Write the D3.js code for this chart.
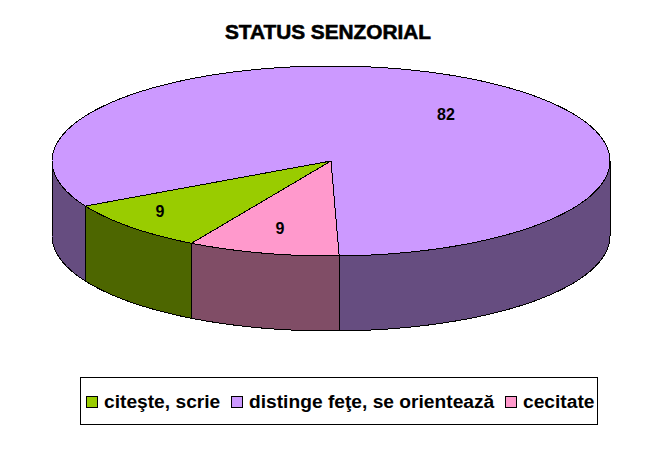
<!DOCTYPE html>
<html><head><meta charset="utf-8">
<script src="https://cdn.jsdelivr.net/npm/d3@7"></script>
<style>
html,body{margin:0;padding:0;background:#fff}
svg{display:block}
text{font-family:"Liberation Sans",Arial,sans-serif;font-weight:bold;fill:#000}
</style></head><body>
<svg id="c" width="656" height="455"></svg>
<script>
const categories = ["citeşte, scrie", "distinge feţe, se orientează", "cecitate"];
const values = [8.8, 82.4, 8.8];
const topColors = ["#99CC00", "#CC99FF", "#FF99CC"];
const sideColors = ["#4D6600", "#664D80", "#804D66"];
const titleText = "STATUS SENZORIAL";

const svg = d3.select("#c");
const cx = 331, cy = 161, rx = 279, ry = 95, depth = 75;
const sx = d3.scaleLinear().domain([-1, 1]).range([cx - rx, cx + rx]);
const sy = d3.scaleLinear().domain([-1, 1]).range([cy - ry, cy + ry]);
const pie = d3.pie().sort(null).startAngle(210 * Math.PI / 180).endAngle(570 * Math.PI / 180);
const arcs = pie(values);
const pt = (a, dz = 0) => [sx(Math.sin(a)), sy(-Math.cos(a)) + dz];
const line = d3.line();
const steps = (a0, a1) => { const n = Math.max(2, Math.ceil(Math.abs(a1 - a0) * 60)); return d3.range(n + 1).map(i => a0 + (a1 - a0) * i / n); };

// side walls: visible portion is where the angle lies in [90deg, 270deg] modulo 360
const T = 2 * Math.PI, lo = T / 4, hi = 3 * T / 4;
const sides = [];
arcs.forEach((d, i) => {
  for (const k of [-1, 0, 1]) {
    const a0 = Math.max(d.startAngle + k * T, lo), a1 = Math.min(d.endAngle + k * T, hi);
    if (a1 > a0) sides.push({ i, a0, a1 });
  }
});
const shape = sel => sel.attr("stroke", "#000").attr("stroke-width", 1).attr("stroke-linejoin", "round").attr("shape-rendering", "crispEdges");
sides.forEach(s => {
  const a = steps(s.a0, s.a1);
  const p = a.map(t => pt(t)).concat(a.slice().reverse().map(t => pt(t, depth)));
  svg.append("path").attr("d", line(p) + "Z").attr("fill", sideColors[s.i]).call(shape);
});
arcs.forEach((d, i) => {
  const p = [[sx(0), sy(0)]].concat(steps(d.startAngle, d.endAngle).map(t => pt(t)));
  svg.append("path").attr("d", line(p) + "Z").attr("fill", topColors[i]).call(shape);
});

// data labels
const labelAt = [[160, 211], [446, 114], [280, 228]];
const fmt = d3.format(".0f");
arcs.forEach((d, i) => {
  svg.append("text").attr("x", labelAt[i][0]).attr("y", labelAt[i][1]).attr("dy", "0.36em")
    .attr("text-anchor", "middle").attr("font-size", 16).text(fmt(values[i]));
});

// title
svg.append("text").attr("x", 328).attr("y", 39).attr("text-anchor", "middle")
  .attr("font-size", 20.8).attr("stroke", "#000").attr("stroke-width", 0.6).text(titleText);

// legend
svg.append("rect").attr("x", 80.5).attr("y", 377.5).attr("width", 517).attr("height", 47)
  .attr("fill", "#fff").attr("stroke", "#000").attr("shape-rendering", "crispEdges");
const swatchX = [86.5, 231.5, 505.5], textX = [104, 249, 523];
categories.forEach((c, i) => {
  svg.append("rect").attr("x", swatchX[i]).attr("y", 396.5).attr("width", 11).attr("height", 11)
    .attr("fill", topColors[i]).attr("stroke", "#000").attr("shape-rendering", "crispEdges");
  svg.append("text").attr("x", textX[i]).attr("y", 407.5).attr("font-size", 19.2).text(c);
});
</script>
</body></html>
